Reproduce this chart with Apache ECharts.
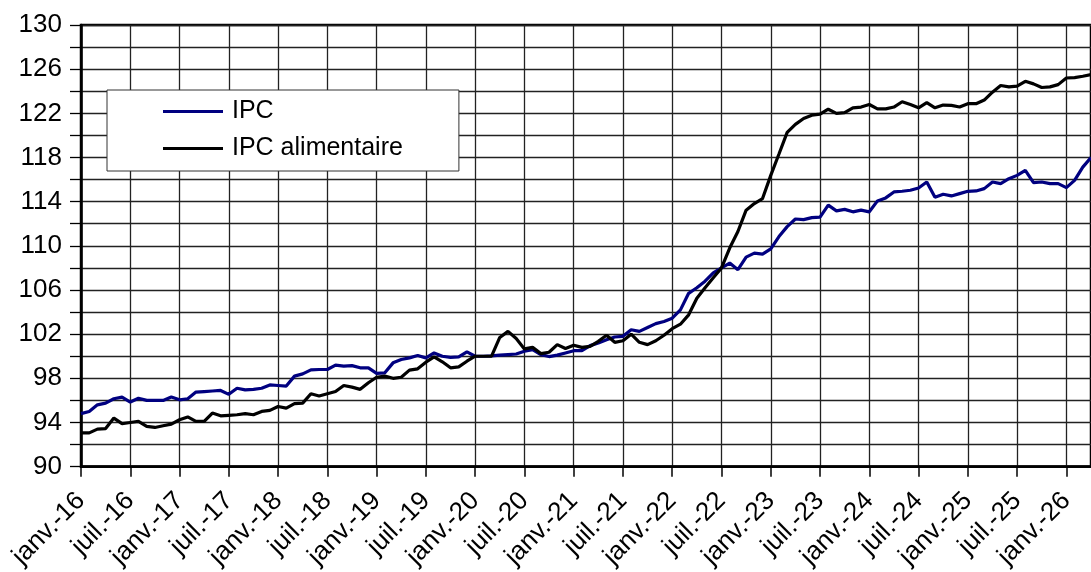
<!DOCTYPE html>
<html><head><meta charset="utf-8">
<script src="https://cdn.jsdelivr.net/npm/echarts@6/dist/echarts.min.js"></script>
<style>html,body{margin:0;padding:0;background:#fff}#c{width:1091px;height:572px}</style>
</head><body><div id="c"></div>
<script>
const monthNames = ['janv.','févr.','mars','avr.','mai','juin','juil.','août','sept.','oct.','nov.','déc.'];
const years = ['16','17','18','19','20','21','22','23','24','25','26'];
const categories = [];
years.forEach(y => monthNames.forEach(m => categories.push(m + '-' + y)));
categories.length = 124; // janv.-16 .. avr.-26

const ipc = [94.8,95.0,95.6,95.75,96.15,96.3,95.85,96.2,96.0,96.0,96.0,96.3,
 96.05,96.15,96.75,96.8,96.85,96.9,96.55,97.1,96.95,97.0,97.1,97.4,
 97.35,97.3,98.2,98.4,98.77,98.8,98.8,99.2,99.1,99.15,98.95,98.95,
 98.45,98.5,99.4,99.7,99.85,100.06,99.85,100.3,100.0,99.9,99.94,100.4,
 100.0,100.0,100.03,100.1,100.15,100.2,100.45,100.6,100.15,99.97,100.1,100.3,
 100.5,100.5,100.96,101.2,101.5,101.74,101.8,102.4,102.25,102.6,102.95,103.15,
 103.45,104.2,105.7,106.2,106.8,107.55,108.0,108.44,107.84,108.98,109.34,109.25,
 109.73,110.84,111.74,112.43,112.37,112.55,112.6,113.68,113.17,113.3,113.08,113.23,
 113.08,114.07,114.34,114.88,114.94,115.03,115.24,115.78,114.4,114.67,114.52,114.73,
 114.94,114.97,115.18,115.78,115.63,116.08,116.38,116.83,115.72,115.78,115.63,115.63,
 115.27,115.93,117.13,118.0];

const ipcAlim = [93.06,93.06,93.4,93.45,94.4,93.9,94.0,94.1,93.65,93.55,93.7,93.85,
 94.25,94.5,94.1,94.1,94.85,94.6,94.65,94.7,94.8,94.7,95.0,95.1,
 95.45,95.3,95.7,95.75,96.6,96.4,96.6,96.8,97.35,97.2,97.0,97.6,
 98.1,98.2,98.0,98.1,98.74,98.86,99.46,99.94,99.5,98.95,99.04,99.55,
 100.0,100.0,100.0,101.7,102.25,101.6,100.66,100.8,100.24,100.36,101.05,100.7,
 101.0,100.8,100.9,101.35,101.9,101.26,101.4,102.0,101.26,101.05,101.4,101.9,
 102.5,102.9,103.75,105.25,106.2,107.1,108.0,109.8,111.3,113.23,113.83,114.28,
 116.38,118.32,120.27,121.0,121.53,121.83,121.92,122.37,122.0,122.07,122.5,122.57,
 122.8,122.4,122.4,122.57,123.05,122.8,122.5,122.96,122.5,122.75,122.72,122.57,
 122.87,122.87,123.2,123.92,124.52,124.4,124.46,124.9,124.67,124.34,124.4,124.6,
 125.2,125.24,125.36,125.5];

const yMin = 90, yMax = 130, yStep = 2, yLabelStep = 4;
const FONT = '"Liberation Sans", Arial, sans-serif';

const chart = echarts.init(document.getElementById('c'));
chart.setOption({
  animation: false,
  backgroundColor: '#fff',
  grid: { left: 81, top: 25, bottom: 103, right: -4, show: true, borderColor: '#000', borderWidth: 2.5, backgroundColor: 'transparent' },
  legend: {
    orient: 'vertical', left: 107, top: 90,
    padding: [9, 56, 10, 56],
    backgroundColor: '#fff', borderColor: '#333', borderWidth: 1,
    itemWidth: 60, itemHeight: 3, itemGap: 12,
    icon: 'rect',
    textStyle: { fontFamily: FONT, fontSize: 25, color: '#000', padding: [0,0,0,4] },
    data: ['IPC', 'IPC alimentaire']
  },
  xAxis: {
    type: 'category', data: categories, boundaryGap: false,
    axisLine: { show: true, lineStyle: { color: '#000', width: 2.5 } },
    axisTick: { show: true, interval: 5, length: 10, lineStyle: { color: '#000', width: 1.5 } },
    splitLine: { show: true, interval: 5, lineStyle: { color: '#222', width: 1.3 } },
    axisLabel: { interval: 5, rotate: 45, margin: 30, fontFamily: FONT, fontSize: 26, color: '#000' }
  },
  yAxis: {
    type: 'value', min: yMin, max: yMax, interval: yStep,
    axisLine: { show: true, lineStyle: { color: '#000', width: 2.5 } },
    axisTick: { show: true, length: 11, lineStyle: { color: '#000', width: 1.3 } },
    splitLine: { show: true, lineStyle: { color: '#222', width: 1.3 } },
    axisLabel: { margin: 19, fontFamily: FONT, fontSize: 26, color: '#000',
      formatter: v => ((v - yMin) % yLabelStep === 0 ? String(v) : '') }
  },
  series: [
    { name: 'IPC', type: 'line', data: ipc, showSymbol: false, symbol: 'none',
      lineStyle: { color: '#000080', width: 3.2 }, itemStyle: { color: '#000080' }, z: 3 },
    { name: 'IPC alimentaire', type: 'line', data: ipcAlim, showSymbol: false, symbol: 'none',
      lineStyle: { color: '#000', width: 3.2 }, itemStyle: { color: '#000' }, z: 4 }
  ]
});
</script></body></html>
